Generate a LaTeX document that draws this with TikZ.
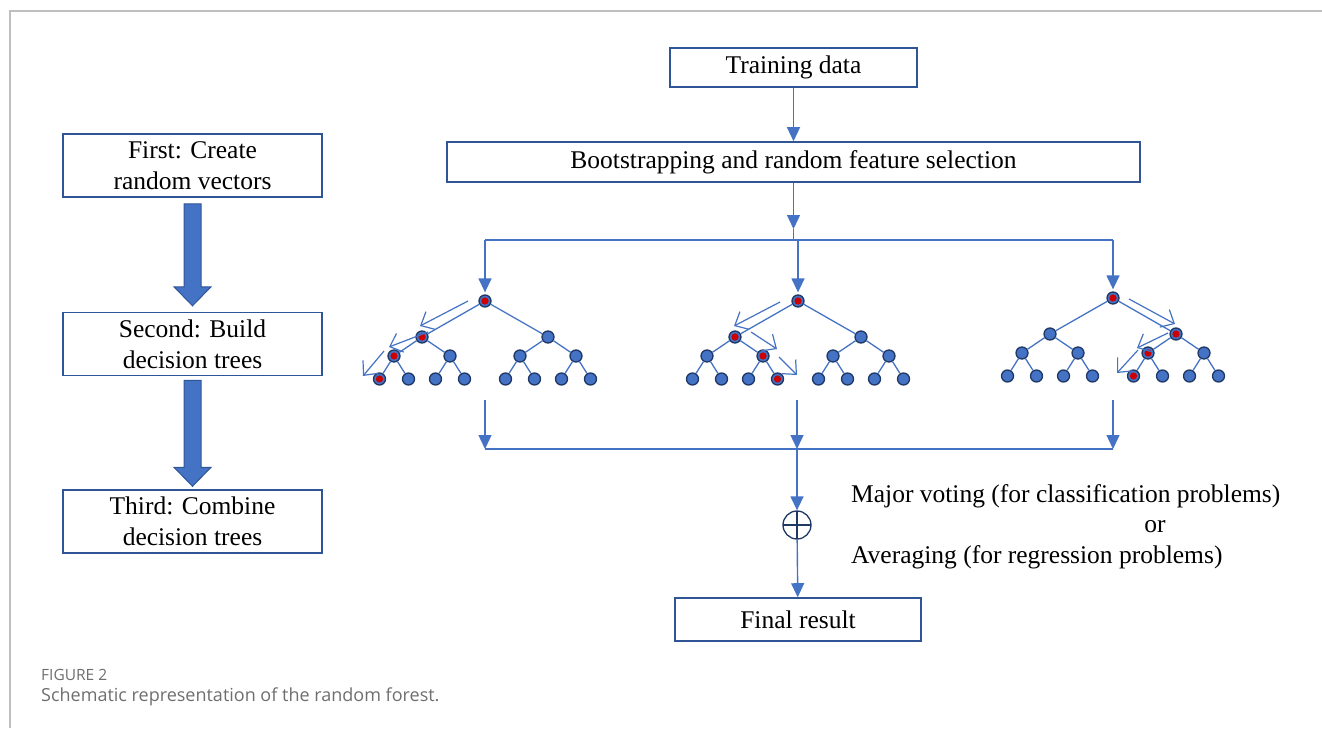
\documentclass[tikz,border=0pt]{standalone}
\usepackage{fontspec}
\setmainfont{Liberation Serif}
\newfontfamily\capfont{Open Sans}
\usetikzlibrary{arrows.meta, positioning, calc}
\definecolor{flowblue}{RGB}{68,114,196}
\definecolor{boxblue}{RGB}{47,85,151}
\definecolor{darkblue}{RGB}{31,56,100}
\definecolor{hitred}{RGB}{204,0,0}
\definecolor{framegray}{RGB}{190,190,190}
\definecolor{capgray}{RGB}{110,110,110}

\begin{document}
\begin{tikzpicture}[x=1pt, y=-1pt,
  box/.style={draw=boxblue, line width=1.6pt, fill=white, align=center, inner sep=0pt, font=\fontsize{25.5}{31}\selectfont},
  flow/.style={draw=flowblue, line width=1.4pt, -{Triangle[length=14pt,width=13pt]}},
  link/.style={draw=flowblue, line width=1.4pt},
  treept/.style={circle, fill=flowblue, draw=darkblue, line width=1.3pt, minimum size=12pt, inner sep=0pt},
  branch/.style={draw=flowblue, line width=1.3pt},
  pathhint/.style={draw=flowblue, line width=1.2pt, -{Straight Barb[length=11pt,width=20pt]}},
  stagearrow/.style={fill=flowblue, draw=boxblue, line width=1pt},
  note/.style={inner sep=0pt, font=\fontsize{25.5}{31}\selectfont}]

  \useasboundingbox (0,0) rectangle (1322,728);

  % Page frame (grey rule on top and left)
  \draw[framegray, line width=2pt] (10,728) -- (10,11) -- (1322,11);

  % --- left column: the three stages ---
  \node[box, minimum width=259pt, minimum height=63pt] (first) at (192.5,165.5) {First: Create\\random vectors};
  \node[box, minimum width=259pt, minimum height=63pt] (second) at (192.5,344) {Second: Build\\decision trees};
  \node[box, minimum width=259pt, minimum height=63pt] (third) at (192.5,521.5) {Third: Combine\\decision trees};

  % block arrows between stages
  \filldraw[stagearrow] ($(first.south)+(-8.5,6)$) -- ++(17,0) -- ++(0,83) -- ++(10,0)
    -- ++(-18.5,19) -- ++(-18.5,-19) -- ++(10,0) -- cycle;
  \filldraw[stagearrow] ($(second.south)+(-8.5,4)$) -- ++(17,0) -- ++(0,87) -- ++(10,0)
    -- ++(-18.5,19) -- ++(-18.5,-19) -- ++(10,0) -- cycle;

  % --- right column: data flow ---
  \node[box, minimum width=247pt, minimum height=39pt] (train) at (793.5,67.5) {Training data};
  \node[box, minimum width=693pt, minimum height=40pt] (boot) at (793.5,162) {Bootstrapping and random feature selection};
  \draw[flow] (train) -- (boot);

  % one decision tree: name, root x, root y
  \def\rftree#1#2#3{%
    \node[treept] (#1-r) at (#2,#3) {};
    \node[treept] (#1-a) at (#2-63,#3+36) {};
    \node[treept] (#1-b) at (#2+63,#3+36) {};
    \node[treept] (#1-aa) at (#2-91,#3+55) {};
    \node[treept] (#1-ab) at (#2-35,#3+55) {};
    \node[treept] (#1-ba) at (#2+35,#3+55) {};
    \node[treept] (#1-bb) at (#2+91,#3+55) {};
    \node[treept] (#1-aaa) at (#2-105.5,#3+78) {};
    \node[treept] (#1-aab) at (#2-76.5,#3+78) {};
    \node[treept] (#1-aba) at (#2-49.5,#3+78) {};
    \node[treept] (#1-abb) at (#2-20.5,#3+78) {};
    \node[treept] (#1-baa) at (#2+20.5,#3+78) {};
    \node[treept] (#1-bab) at (#2+49.5,#3+78) {};
    \node[treept] (#1-bba) at (#2+76.5,#3+78) {};
    \node[treept] (#1-bbb) at (#2+105.5,#3+78) {};
    \draw[branch] (#1-r) -- (#1-a) (#1-r) -- (#1-b)
      (#1-a) -- (#1-aa) (#1-a) -- (#1-ab) (#1-b) -- (#1-ba) (#1-b) -- (#1-bb)
      (#1-aa) -- (#1-aaa) (#1-aa) -- (#1-aab) (#1-ab) -- (#1-aba) (#1-ab) -- (#1-abb)
      (#1-ba) -- (#1-baa) (#1-ba) -- (#1-bab) (#1-bb) -- (#1-bba) (#1-bb) -- (#1-bbb);
  }

  \rftree{t1}{485}{301}
  \rftree{t2}{798}{301}
  \rftree{t3}{1113}{298}

  % visited nodes (red centres)
  \fill[hitred] (t1-r) circle (3.6pt) (t1-a) circle (3.6pt) (t1-aa) circle (3.6pt) (t1-aaa) circle (3.6pt);
  \fill[hitred] (t2-r) circle (3.6pt) (t2-a) circle (3.6pt) (t2-ab) circle (3.6pt) (t2-abb) circle (3.6pt);
  \fill[hitred] (t3-r) circle (3.6pt) (t3-b) circle (3.6pt) (t3-ba) circle (3.6pt) (t3-baa) circle (3.6pt);

  % decision paths
  \draw[pathhint] (468,301) -- (420,326);
  \draw[pathhint] (428,332) -- (389,347);
  \draw[pathhint] (384,351) -- (363,376);
  \draw[pathhint] (780,302) -- (734,326);
  \draw[pathhint] (751,332) -- (777,349);
  \draw[pathhint] (779,357) -- (797,375);
  \draw[pathhint] (1129,299) -- (1175,324);
  \draw[pathhint] (1168,333) -- (1137,348);
  \draw[pathhint] (1138,350) -- (1117,373);

  % fan out to the trees
  \coordinate (split) at (793.5,229);
  \coordinate (fan) at (793.5,240);
  \draw[flow] (boot) -- (split);
  \draw[link] (split) -- (fan);
  \draw[link] (t1-r |- fan) -- (t3-r |- fan);
  \draw[flow, shorten >=2pt] (t1-r |- fan) -- (t1-r);
  \draw[flow, shorten >=2pt] (t2-r |- fan) -- (t2-r);
  \draw[flow, shorten >=2pt] (t3-r |- fan) -- (t3-r);

  % collect the tree outputs
  \coordinate (t1-out) at (485,400);
  \coordinate (t2-out) at (797,400);
  \coordinate (t3-out) at (1113,400);
  \coordinate (join) at (797,449);
  \draw[link] (t1-out |- join) -- (t3-out |- join);
  \draw[flow] (t1-out) -- (t1-out |- join);
  \draw[flow] (t2-out) -- (t2-out |- join);
  \draw[flow] (t3-out) -- (t3-out |- join);

  % combination and result
  \node[circle, draw=darkblue, line width=1.3pt, minimum size=28pt, inner sep=0pt,
    path picture={\draw[darkblue, line width=1.3pt]
      (path picture bounding box.north) -- (path picture bounding box.south)
      (path picture bounding box.west) -- (path picture bounding box.east);}] (vote) at (797,525) {};
  \node[box, minimum width=246pt, minimum height=43pt] (final) at (798,619.5) {Final result};
  \draw[flow] (join) -- (vote);
  \draw[flow] (vote) -- (final);

  \node[note, anchor=west] (major) at (851,496) {Major voting (for classification problems)};
  \node[note] (or) at (1155,527) {or};
  \node[note, anchor=west] (avg) at (851,557) {Averaging (for regression problems)};

  % caption
  \node[anchor=west, inner sep=0pt, text=capgray, font=\capfont\fontsize{15.5}{18}\selectfont] (figno) at (41,675) {FIGURE 2};
  \node[anchor=west, inner sep=0pt, text=capgray, font=\capfont\fontsize{18}{22}\selectfont] (caption) at (41,697) {Schematic representation of the random forest.};
\end{tikzpicture}
\end{document}
